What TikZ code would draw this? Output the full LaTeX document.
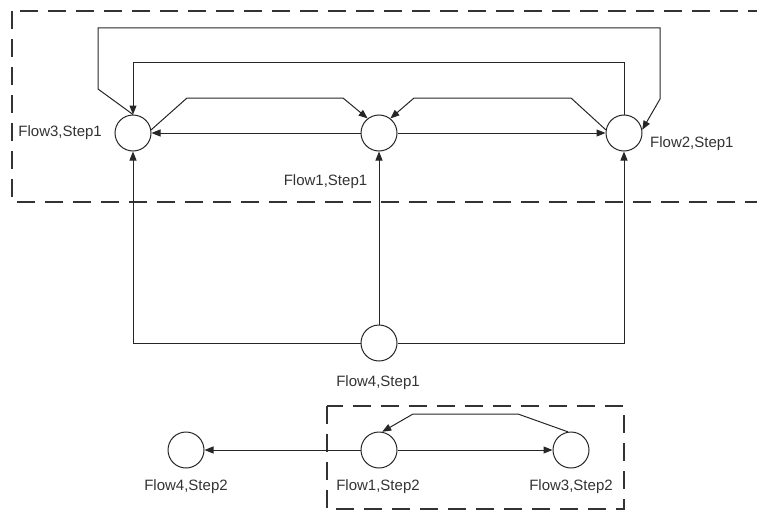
\documentclass[tikz,border=0pt]{standalone}
\usepackage{fontspec}
\setmainfont{Liberation Sans}
\usetikzlibrary{arrows.meta}
\begin{document}
\begin{tikzpicture}[x=1pt,y=-1pt,
  stepnode/.style={circle,draw=black!85,line width=1pt,minimum size=36pt,inner sep=0pt,fill=white},
  conn/.style={draw=black!85,line width=1pt},
  arr/.style={conn,-{Triangle[length=9pt,width=7pt]}},
  lbl/.style={font=\fontsize{15}{18}\selectfont,text=black!80,inner sep=0pt},
  grp/.style={draw=black!80,line width=2pt,dash pattern=on 18pt off 10pt}]
\useasboundingbox (0,0) rectangle (757,511);
\clip (0,0) rectangle (757,511);
% group boxes
\draw[grp] (12,11) rectangle (800,202);
\draw[grp] (327,406) rectangle (624,509);
% nodes
\node[stepnode] (f3s1) at (133,133) {};
\node[stepnode] (f1s1) at (379,133) {};
\node[stepnode] (f2s1) at (624,133) {};
\node[stepnode] (f4s1) at (379,343) {};
\node[stepnode] (f4s2) at (186,450) {};
\node[stepnode] (f1s2) at (379,450) {};
\node[stepnode] (f3s2) at (571,450) {};
% labels
\node[lbl,anchor=east] (l3s1) at (102,133) {Flow3,Step1};
\node[lbl] (l1s1) at (325.5,182) {Flow1,Step1};
\node[lbl,anchor=west] (l2s1) at (650,144) {Flow2,Step1};
\node[lbl] (l4s1) at (378,383) {Flow4,Step1};
\node[lbl] (l4s2) at (186,487) {Flow4,Step2};
\node[lbl] (l1s2) at (378,487) {Flow1,Step2};
\node[lbl] (l3s2) at (571,487) {Flow3,Step2};
% top connectors
\draw[arr] (f3s1.north) -- (98,89) -- (98,28) -- (660,28) -- (660,99) -- (f2s1.10);
\draw[arr] (f2s1.north) -- (624,63) -- (133,63) -- (f3s1.north);
\draw[arr] (f1s1) -- (f3s1);
\draw[arr] (f1s1) -- (f2s1);
\draw[arr] (f3s1.10) -- (187,98) -- (343,98) -- (f1s1.128);
\draw[arr] (f2s1.170) -- (571,98) -- (414,98) -- (f1s1.52);
% from Flow4,Step1
\draw[arr] (f4s1.west) -- (133,343) -- (f3s1.south);
\draw[arr] (f4s1) -- (f1s1);
\draw[arr] (f4s1.east) -- (624,343) -- (f2s1.south);
% bottom
\draw[arr] (f1s2) -- (f3s2);
\draw[arr] (f1s2) -- (f4s2);
\draw[arr] (f3s2.100) -- (518,414) -- (413,414) -- (f1s2.80);
\end{tikzpicture}
\end{document}
